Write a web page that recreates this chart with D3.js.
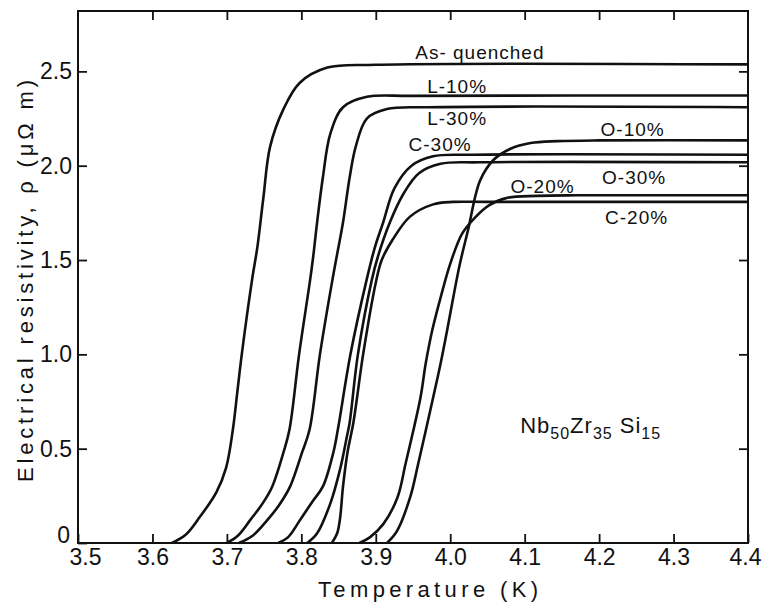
<!DOCTYPE html>
<html>
<head>
<meta charset="utf-8">
<script src="https://cdn.jsdelivr.net/npm/d3@7"></script>
<style>
  body { margin: 0; background: #fff; }
  svg { display: block; }
  text { font-family: "Liberation Sans", Arial, sans-serif; fill: #111; }
</style>
</head>
<body>
<svg id="chart" width="762" height="607"></svg>
<script>
(function(d3) {
  'use strict';

  // ticks
  var xTicks = [3.5, 3.6, 3.7, 3.8, 3.9, 4.0, 4.1, 4.2, 4.3, 4.4];
  var xTickLabels = ['3.5', '3.6', '3.7', '3.8', '3.9', '4.0', '4.1', '4.2', '4.3', '4.4'];
  var yTicks = [0, 0.5, 1.0, 1.5, 2.0, 2.5];
  var yTickLabels = ['0', '0.5', '1.0', '1.5', '2.0', '2.5'];

  // [temperature K, resistivity uOhm m]
  var asQuenched = [[3.626,0],[3.645,0.045],[3.664,0.14],[3.686,0.27],[3.699,0.40],[3.708,0.60],[3.714,0.80],[3.720,1.0],[3.734,1.40],[3.741,1.57],[3.749,1.83],[3.758,2.10],[3.776,2.30],[3.798,2.44],[3.835,2.52],[3.90,2.535],[4.4,2.537]];
  var l10 = [[3.700,0],[3.715,0.04],[3.731,0.12],[3.748,0.21],[3.761,0.30],[3.776,0.48],[3.784,0.60],[3.797,1.0],[3.812,1.40],[3.816,1.52],[3.820,1.66],[3.829,1.94],[3.839,2.17],[3.856,2.31],[3.888,2.365],[3.95,2.37],[4.4,2.372]];
  var l30 = [[3.716,0],[3.735,0.04],[3.754,0.12],[3.770,0.20],[3.785,0.30],[3.801,0.48],[3.811,0.60],[3.825,1.0],[3.842,1.40],[3.849,1.55],[3.856,1.70],[3.865,1.94],[3.873,2.10],[3.888,2.25],[3.915,2.30],[3.97,2.31],[4.4,2.31]];
  var c30 = [[3.769,0],[3.782,0.03],[3.798,0.12],[3.815,0.22],[3.829,0.30],[3.843,0.48],[3.849,0.60],[3.866,1.0],[3.888,1.40],[3.899,1.57],[3.910,1.70],[3.925,1.88],[3.948,2.0],[3.977,2.05],[4.03,2.058],[4.4,2.058]];
  var o30 = [[3.808,0],[3.821,0.05],[3.839,0.21],[3.852,0.39],[3.861,0.56],[3.865,0.64],[3.876,1.0],[3.895,1.40],[3.903,1.52],[3.919,1.70],[3.937,1.85],[3.958,1.96],[3.987,2.01],[4.04,2.018],[4.4,2.018]];
  var c20 = [[3.841,0],[3.848,0.05],[3.852,0.13],[3.856,0.30],[3.862,0.48],[3.870,0.64],[3.883,1.0],[3.900,1.38],[3.908,1.50],[3.923,1.61],[3.946,1.73],[3.977,1.795],[4.004,1.808],[4.05,1.808],[4.4,1.808]];
  var o10 = [[3.915,0],[3.928,0.06],[3.946,0.24],[3.957,0.42],[3.977,0.77],[3.987,0.95],[3.996,1.13],[4.004,1.30],[4.013,1.48],[4.024,1.66],[4.040,1.92],[4.058,2.03],[4.081,2.09],[4.108,2.12],[4.144,2.13],[4.2,2.134],[4.4,2.134]];
  var o20 = [[3.878,0],[3.892,0.03],[3.910,0.10],[3.929,0.24],[3.940,0.42],[3.960,0.77],[3.967,0.95],[3.976,1.13],[3.987,1.30],[4.0,1.48],[4.016,1.64],[4.032,1.72],[4.052,1.79],[4.077,1.83],[4.117,1.84],[4.17,1.843],[4.4,1.843]];

  var seriesNames = ['As- quenched', 'L-10%', 'L-30%', 'C-30%', 'O-30%', 'C-20%', 'O-10%', 'O-20%'];
  var seriesValues = [asQuenched, l10, l30, c30, o30, c20, o10, o20];

  // where each label sits (data coords, start of text / baseline)
  var labelAt = [[3.953,2.566],[3.969,2.385],[3.969,2.215],[3.944,2.078],[4.204,1.903],[4.208,1.691],[4.202,2.157],[4.081,1.855]];

  var svg = d3.select('#chart');

  var x = d3.scaleLinear().domain([3.5, 4.4]).range([78, 748]);
  var y = d3.scaleLinear().domain([0, 2.82]).range([543, 11]);

  var line = d3.line()
      .x(function(d) { return x(d[0]); })
      .y(function(d) { return y(d[1]); })
      .curve(d3.curveCatmullRom.alpha(0.5));

  // curves
  svg.append('g')
    .selectAll('path')
    .data(seriesValues)
    .enter().append('path')
      .attr('d', line)
      .attr('fill', 'none')
      .attr('stroke', '#111')
      .attr('stroke-width', 2.6)
      .attr('stroke-linejoin', 'round');

  // axes, ticks pointing inward
  var bottom = svg.append('g')
      .attr('transform', 'translate(0,' + y(0) + ')')
      .call(d3.axisBottom(x).tickValues(xTicks)
        .tickFormat(function(d, i) { return xTickLabels[i]; })
        .tickSizeInner(-9).tickSizeOuter(0).tickPadding(6));
  var top = svg.append('g')
      .attr('transform', 'translate(0,' + y(2.82) + ')')
      .call(d3.axisTop(x).tickValues(xTicks.slice(1, -1))
        .tickFormat('').tickSizeInner(-9).tickSizeOuter(0));
  var left = svg.append('g')
      .attr('transform', 'translate(' + x(3.5) + ',0)')
      .call(d3.axisLeft(y).tickValues(yTicks)
        .tickFormat(function(d, i) { return yTickLabels[i]; })
        .tickSizeInner(-9).tickSizeOuter(0).tickPadding(6));
  var right = svg.append('g')
      .attr('transform', 'translate(' + x(4.4) + ',0)')
      .call(d3.axisRight(y).tickValues(yTicks.slice(1))
        .tickFormat('').tickSizeInner(-9).tickSizeOuter(0));

  [bottom, top, left, right].forEach(function(g) {
    g.attr('font-family', null).attr('font-size', null);
    g.select('.domain').remove();
    g.selectAll('.tick line').attr('stroke', '#111').attr('stroke-width', 1.8);
    g.selectAll('.tick text').style('font-size', '23px').attr('fill', '#111');
  });
  bottom.selectAll('.tick text').filter(function(d) { return d === 3.5; }).attr('dx', 7);
  bottom.selectAll('.tick text').filter(function(d) { return d === 4.4; }).attr('dx', -3);
  left.selectAll('.tick text').filter(function(d) { return d === 0; }).attr('dx', -2).attr('y', -8);

  svg.append('rect')
      .attr('x', x(3.5)).attr('y', y(2.82))
      .attr('width', x(4.4) - x(3.5)).attr('height', y(0) - y(2.82))
      .attr('fill', 'none').attr('stroke', '#111').attr('stroke-width', 2);

  // curve labels
  svg.append('g')
    .selectAll('text')
    .data(seriesNames)
    .enter().append('text')
      .attr('x', function(d, i) { return x(labelAt[i][0]); })
      .attr('y', function(d, i) { return y(labelAt[i][1]); })
      .style('font-size', '19px')
      .style('letter-spacing', '1px')
      .text(function(d) { return d; });

  // alloy
  var alloy = svg.append('text')
      .attr('x', x(4.094)).attr('y', y(0.585))
      .style('font-size', '22px')
      .style('letter-spacing', '1px');
  [['Nb', false], ['50', true], ['Zr', false], ['35', true], [' Si', false], ['15', true]].forEach(function(p) {
    alloy.append('tspan')
      .attr('dy', p[1] ? 6 : -6)
      .style('font-size', p[1] ? '16px' : '22px')
      .text(p[0]);
  });
  alloy.select('tspan').attr('dy', 0);

  // axis titles
  svg.append('text')
      .attr('x', 428).attr('y', 597)
      .attr('text-anchor', 'middle')
      .attr('textLength', 220).attr('lengthAdjust', 'spacing')
      .style('font-size', '22px')
      .text('Temperature  (K)');

  svg.append('text')
      .attr('transform', 'translate(33,281) rotate(-90)')
      .attr('text-anchor', 'middle')
      .attr('textLength', 402).attr('lengthAdjust', 'spacing')
      .style('font-size', '22px')
      .text('Electrical resistivity,  \u03c1 (\u03bc\u03a9 m)');
})(window.d3);
</script>
</body>
</html>
